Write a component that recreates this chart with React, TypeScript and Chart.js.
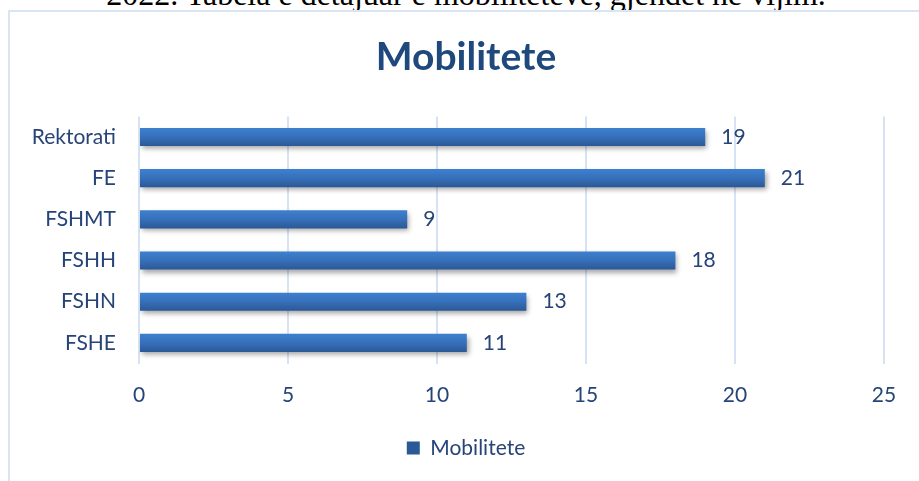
import React, { useEffect, useRef } from "react";
import { Chart, registerables } from "chart.js";

Chart.register(...registerables);

const categories = ["Rektorati", "FE", "FSHMT", "FSHH", "FSHN", "FSHE"];
const values = [19, 21, 9, 18, 13, 11];
const seriesName = "Mobilitete";
const chartTitle = "Mobilitete";
const headerText = "2022. Tabela e detajuar e mobiliteteve, gjendet në vijim.";
const xMin = 0;
const xMax = 25;
const xStep = 5;

const FONT = "Lato, 'Open Sans', sans-serif";
const LABEL_COLOR = "#264478";
const TITLE_COLOR = "#1F497D";
const GRID_COLOR = "#D6E3F5";
const BAR_PCT = 0.44;
const LABEL_SIZE = 21;

const barShadow = {
  id: "barShadow",
  beforeDatasetsDraw(chart: any) {
    const ctx = chart.ctx;
    ctx.save();
    ctx.shadowColor = "rgba(0,0,0,0.35)";
    ctx.shadowBlur = 5;
    ctx.shadowOffsetX = 2;
    ctx.shadowOffsetY = 3;
  },
  afterDatasetsDraw(chart: any) {
    chart.ctx.restore();
  },
};

const valueLabels = {
  id: "valueLabels",
  afterDatasetsDraw(chart: any) {
    const ctx = chart.ctx;
    const meta = chart.getDatasetMeta(0);
    ctx.save();
    ctx.font = `${LABEL_SIZE}px ${FONT}`;
    ctx.fillStyle = LABEL_COLOR;
    ctx.textAlign = "left";
    ctx.textBaseline = "middle";
    meta.data.forEach((el: any, i: number) => {
      ctx.fillText(String(values[i]), el.x + 16, el.y);
    });
    ctx.restore();
  },
};

function barFill(c: any) {
  const chart = c.chart;
  const y = chart.scales && chart.scales.y;
  if (c.type !== "data" || !y || y.height == null) {
    const g = chart.ctx.createLinearGradient(0, 441, 0, 455);
    g.addColorStop(0, "#3E7FCD");
    g.addColorStop(1, "#2C5A98");
    return g;
  }
  const yc = y.getPixelForValue(c.dataIndex);
  const cat = y.height / categories.length;
  const t = cat * BAR_PCT;
  const g = chart.ctx.createLinearGradient(0, yc - t / 2, 0, yc + t / 2);
  g.addColorStop(0, "#3E80CF");
  g.addColorStop(0.5, "#3670BA");
  g.addColorStop(1, "#2B5896");
  return g;
}

export default function App() {
  const ref = useRef<HTMLCanvasElement | null>(null);
  useEffect(() => {
    if (!ref.current) return;
    const chart = new Chart(ref.current, {
      type: "bar",
      data: {
        labels: categories,
        datasets: [
          {
            label: seriesName,
            data: values,
            backgroundColor: barFill as any,
            borderWidth: 0,
            barPercentage: BAR_PCT,
            categoryPercentage: 1,
          },
        ],
      },
      options: {
        indexAxis: "y",
        responsive: false,
        animation: false,
        devicePixelRatio: 1,
        layout: { padding: { top: 15, bottom: 12.5, left: 48, right: 35 } },
        scales: {
          x: {
            min: xMin,
            max: xMax,
            ticks: {
              stepSize: xStep,
              color: LABEL_COLOR,
              font: { family: FONT, size: LABEL_SIZE },
              padding: 19,
              maxRotation: 0,
            },
            grid: { color: GRID_COLOR, lineWidth: 2, drawTicks: false },
            border: { display: false },
            afterFit: (s: any) => {
              s.height = 64;
            },
          },
          y: {
            ticks: {
              color: LABEL_COLOR,
              font: { family: FONT, size: LABEL_SIZE },
              padding: 23,
            },
            grid: { display: false, drawTicks: false },
            border: { display: false },
            afterFit: (s: any) => {
              s.width = 91;
              // let the category labels extend past the axis box (no clipping)
              s._computeLabelArea = () => undefined;
            },
          },
        },
        plugins: {
          title: {
            display: true,
            text: chartTitle,
            color: TITLE_COLOR,
            font: { family: FONT, size: 39, weight: "bold" },
            padding: { top: 18.6, bottom: 36 },
          },
          legend: {
            position: "bottom",
            labels: {
              color: LABEL_COLOR,
              font: { family: FONT, size: LABEL_SIZE },
              boxWidth: 13,
              boxHeight: 13,
              padding: 10,
            },
          },
          tooltip: { enabled: false },
        },
      } as any,
      plugins: [barShadow, valueLabels],
    });
    return () => chart.destroy();
  }, []);

  return (
    <div
      style={{
        position: "absolute",
        left: 0,
        top: 0,
        width: 919,
        height: 481,
        overflow: "hidden",
        background: "#fff",
      }}
    >
      <div
        style={{
          position: "absolute",
          left: 0,
          width: 932,
          top: -22,
          textAlign: "center",
          fontFamily: "'Liberation Serif', serif",
          fontSize: 32,
          lineHeight: "32px",
          whiteSpace: "nowrap",
          color: "#000",
        }}
      >
        {headerText}
      </div>
      <div
        style={{
          position: "absolute",
          left: 8,
          top: 10,
          width: 1000,
          height: 1000,
          border: "2px solid #D9E4F5",
          boxSizing: "border-box",
        }}
      />
      <canvas
        ref={ref}
        width={919}
        height={481}
        style={{ position: "absolute", left: 0, top: 0, width: 919, height: 481 }}
      />
    </div>
  );
}
